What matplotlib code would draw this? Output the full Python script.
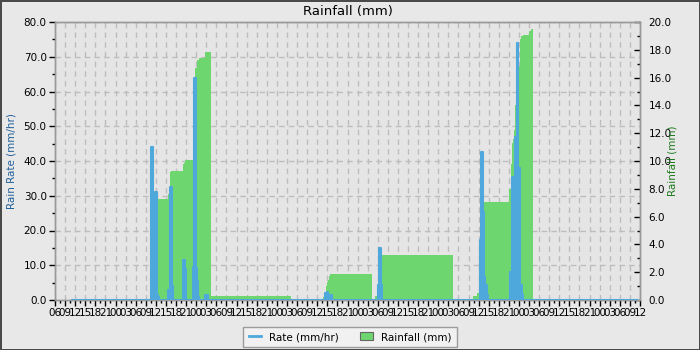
import matplotlib
matplotlib.use("Agg")
import matplotlib.pyplot as plt
from matplotlib.ticker import MultipleLocator, FormatStrFormatter, FixedLocator
from matplotlib.lines import Line2D
from matplotlib.patches import Patch

# ---- data (hours since 06:00 of the first day) ----
rate_hours = [5.0, 28.55, 29.06, 29.74, 30.25, 30.55, 30.84, 33.61, 34.21, 34.80, 35.10,
              38.07, 38.67, 38.96, 41.14, 41.34, 41.85, 42.33, 42.62, 42.83, 44.71, 45.42,
              80.31, 80.90, 81.20, 81.80, 82.39, 96.07, 96.37, 96.96, 97.26,
              126.41, 126.71, 127.22, 127.60, 127.90, 128.40, 128.70,
              135.34, 135.84, 136.33, 136.82, 137.32, 137.81, 138.31, 138.82, 139.29, 173.1]
rate_values = [0, 44.0, 21.3, 31.2, 1.4, 1.0, 0, 3.0, 32.6, 4.0, 0,
               11.5, 8.8, 0, 9.5, 64.0, 9.2, 5.5, 1.0, 0, 1.5, 0,
               1.9, 2.2, 1.3, 1.4, 0, 4.3, 15.0, 4.3, 0,
               17.3, 42.6, 25.4, 6.7, 4.3, 1.4, 0,
               8.1, 35.5, 7.8, 47.0, 73.9, 37.9, 4.3, 1.4, 0, 0]

rain_hours = [28.55, 29.06, 29.74, 30.25, 33.61, 33.90, 34.21, 34.50, 38.07, 38.37, 38.67,
              41.05, 41.55, 42.15, 42.92, 44.62, 46.31, 70.20,
              79.62, 80.01, 80.60, 80.90, 81.20, 81.50, 81.80, 82.09, 94.29,
              95.18, 95.69, 96.07, 96.96, 118.38,
              124.33, 125.43, 126.02, 126.41, 127.22, 127.60, 135.13, 135.55, 135.84, 136.14,
              136.53, 136.82, 137.32, 137.81, 138.31, 138.61, 139.29, 141.08, 141.50, 142.08]
rain_mm = [0.2, 0.5, 1.5, 7.27, 7.6, 7.7, 9.2, 9.28, 9.78, 9.85, 10.05,
           11.08, 16.67, 17.27, 17.43, 17.82, 0.3, 0,
           0.24, 0.48, 1.0, 1.32, 1.44, 1.73, 1.85, 1.87, 0,
           0.26, 0.43, 1.5, 3.24, 0,
           0.26, 0.48, 0.65, 3.0, 6.0, 7.07, 8.0, 9.8, 11.27, 11.6,
           12.2, 14.0, 15.5, 16.8, 18.8, 19.0, 19.06, 19.35, 19.5, 0]

hour_cycle = ["06", "09", "12", "15", "18", "21", "00", "03"]
x_span_hours = 174
x_tick_hours = list(range(0, x_span_hours + 1, 3))
x_tick_labels = [hour_cycle[i % len(hour_cycle)] for i in range(len(x_tick_hours))]

BLUE = "#4ea8dc"
GREEN = "#6ed66e"
FIG_BG = "#e8e8e8"
AX_BG = "#e5e5e5"
GRID = "#bdbdbd"

fig = plt.figure(figsize=(7, 3.5), dpi=100, facecolor=FIG_BG, edgecolor="#4a4a4a", linewidth=2)
ax = fig.add_axes([55/700, 1 - 300/350, 585/700, 278/350])
ax2 = ax.twinx()

# rain axis beneath, rate axis on top
ax.set_zorder(ax2.get_zorder() + 1)
ax.patch.set_visible(False)
ax2.patch.set_visible(True)
ax2.patch.set_facecolor(AX_BG)

ax.set_xlim(0, x_span_hours)
ax.set_ylim(0, 80)
ax2.set_ylim(0, 20)

# grid on the lower axis
for h in x_tick_hours:
    ax2.axvline(h, color=GRID, lw=1, ls=(0, (4, 3)), zorder=0)
for v in range(10, 81, 10):
    ax2.axhline(v / 4.0, color=GRID, lw=1, ls=(0, (4, 3)), zorder=0)

ax2.fill_between(rain_hours, rain_mm, 0, step="post", color=GREEN, lw=0, zorder=2)

ax.fill_between(rate_hours, rate_values, 0, step="post", color=BLUE, lw=0, zorder=3)
ax.plot(rate_hours, rate_values, drawstyle="steps-post", color=BLUE, lw=1.5, zorder=4)

# ticks
ax.xaxis.set_major_locator(FixedLocator(x_tick_hours))
ax.set_xticklabels(x_tick_labels)
ax.xaxis.set_minor_locator(MultipleLocator(1.5))
ax.yaxis.set_major_locator(MultipleLocator(10))
ax.yaxis.set_minor_locator(MultipleLocator(5))
ax.yaxis.set_major_formatter(FormatStrFormatter("%.1f"))
ax2.yaxis.set_major_locator(MultipleLocator(2))
ax2.yaxis.set_minor_locator(MultipleLocator(1))
ax2.yaxis.set_major_formatter(FormatStrFormatter("%.1f"))

ax.tick_params(axis="both", which="major", labelsize=7.5, length=4, width=1, direction="out", pad=2)
ax.tick_params(axis="both", which="minor", length=2.5, width=1, direction="out")
ax2.tick_params(axis="y", which="major", labelsize=7.5, length=4, width=1, direction="in", pad=6)
ax2.tick_params(axis="y", which="minor", length=2.5, width=1, direction="in")

for a in (ax, ax2):
    for s in a.spines.values():
        s.set_color("#999999")
        s.set_linewidth(1)

ax.set_ylabel("Rain Rate (mm/hr)", color="#1f5f99", fontsize=7.5, labelpad=5)
ax2.set_ylabel("Rainfall (mm)", color="#1f7a1f", fontsize=7.5, labelpad=-3)
ax.set_title("Rainfall (mm)", fontsize=9.5, pad=5)

handles = [Line2D([0], [0], color=BLUE, lw=2),
           Patch(facecolor=GREEN, edgecolor="#666666", lw=0.8)]
leg = fig.legend(handles, ["Rate (mm/hr)", "Rainfall (mm)"], loc="center",
                 bbox_to_anchor=(0.5, 1 - 337/350), ncol=2, fontsize=7.5,
                 frameon=True, fancybox=False, facecolor="#f4f4f4", edgecolor="#888888",
                 handlelength=1.2, handleheight=0.8, columnspacing=2.0, borderpad=0.5)
leg.get_frame().set_linewidth(1)

fig.savefig("out.png", dpi=100, facecolor=FIG_BG, edgecolor=fig.get_edgecolor())
